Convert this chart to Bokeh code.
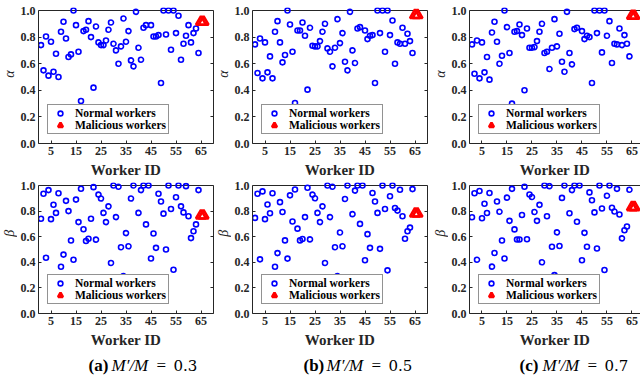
from bokeh.plotting import figure
from bokeh.layouts import column, row
from bokeh.models import (Range1d, LinearAxis, FixedTicker, Span, Label,
                          NumeralTickFormatter)
from bokeh.embed import file_html
from bokeh.resources import INLINE
import math

# ---------------- data ----------------
ids_alpha = [1, 2, 3, 4, 5, 6, 7, 8, 9, 10, 11, 12, 13, 14, 15, 16, 17, 18, 19, 20,
             21, 22, 23, 24, 25, 26, 27, 28, 29, 30, 31, 32, 33, 34, 35, 36, 37, 38, 39, 40,
             41, 42, 43, 45, 46, 47, 48, 49, 50, 51, 52, 53, 54, 55, 56, 57, 58, 59, 60,
             61, 62, 63, 64]
alpha_03 = [0.74, 0.55, 0.805, 0.51, 0.765, 0.54, 0.675, 0.50, 0.84, 0.915, 0.79, 0.65, 0.67, 1.0, 0.89, 0.69, 0.32, 0.845, 0.855, 0.92,
            0.80, 0.42, 0.88, 0.76, 0.74, 0.74, 0.775, 0.855, 0.91, 0.75, 0.70, 0.60, 0.73, 0.94, 0.765, 0.845, 0.625, 0.58, 0.99, 0.72,
            0.63, 0.87, 0.89, 0.89, 0.805, 0.805, 0.815, 0.455, 1.0, 0.82, 1.0, 0.705, 1.0, 0.83, 0.96, 0.63, 0.75, 0.81, 0.89,
            0.76, 0.83, 0.865, 0.68]
alpha_05 = [0.745, 0.53, 0.79, 0.49, 0.76, 0.535, 0.655, 0.49, 0.84, 0.92, 0.76, 0.61, 0.665, 1.0, 0.895, 0.69, 0.305, 0.85, 0.85, 0.91,
            0.81, 0.405, 0.87, 0.735, 0.73, 0.73, 0.77, 0.84, 0.90, 0.715, 0.69, 0.58, 0.72, 0.935, 0.755, 0.83, 0.615, 0.55, 0.99, 0.70,
            0.605, 0.865, 0.875, 0.85, 0.785, 0.81, 0.815, 0.455, 1.0, 0.83, 1.0, 0.69, 1.0, 0.815, 0.925, 0.60, 0.76, 0.75, 0.87,
            0.75, 0.825, 0.77, 0.68]
alpha_07 = [0.745, 0.525, 0.775, 0.49, 0.76, 0.535, 0.65, 0.48, 0.835, 0.915, 0.765, 0.60, 0.66, 1.0, 0.875, 0.68, 0.30, 0.84, 0.845, 0.895,
            0.815, 0.40, 0.865, 0.72, 0.72, 0.725, 0.77, 0.84, 0.90, 0.68, 0.69, 0.56, 0.72, 0.935, 0.73, 0.825, 0.615, 0.54, 0.99, 0.68,
            0.595, 0.86, 0.87, 0.845, 0.785, 0.81, 0.80, 0.455, 1.0, 0.83, 1.0, 0.685, 1.0, 0.81, 0.92, 0.605, 0.75, 0.745, 0.865,
            0.74, 0.815, 0.75, 0.655]

ids_beta = [1, 2, 3, 4, 5, 6, 7, 8, 9, 10, 11, 12, 13, 14, 15, 16, 17, 18, 19, 20,
            21, 22, 23, 24, 25, 26, 27, 28, 29, 30, 31, 32, 33, 34, 35, 36, 37, 38, 40,
            41, 42, 43, 44, 45, 46, 47, 48, 49, 50, 51, 52, 53, 54, 55, 56, 57, 58, 59, 60,
            61, 62, 63, 64]
beta_03 = [0.74, 0.936, 0.436, 0.964, 0.737, 0.85, 0.786, 0.94, 0.365, 0.46, 0.88, 0.80, 0.57, 0.42, 0.89, 0.714, 0.975, 0.658, 0.566, 0.584,
           0.74, 0.987, 0.577, 0.929, 0.898, 0.786, 0.714, 0.837, 0.395, 1.0, 0.753, 0.99, 0.518, 0.293, 0.628, 0.525, 0.898, 1.0, 0.786,
           0.964, 1.0, 0.696, 1.0, 0.43, 0.625, 0.513, 0.936, 0.875, 0.78, 0.50, 1.0, 0.816, 0.342, 0.908, 1.0, 0.837, 0.79, 0.995, 0.76,
           0.589, 0.643, 0.696, 0.964]
beta_05 = [0.747, 0.936, 0.423, 0.954, 0.737, 0.852, 0.783, 0.939, 0.365, 0.472, 0.87, 0.793, 0.571, 0.429, 0.923, 0.719, 0.969, 0.663, 0.571, 0.582,
           0.753, 0.982, 0.579, 0.929, 0.90, 0.786, 0.714, 0.837, 0.395, 1.0, 0.753, 0.99, 0.518, 0.293, 0.633, 0.525, 0.895, 1.0, 0.776,
           0.96, 1.0, 0.70, 1.0, 0.416, 0.62, 0.513, 0.941, 0.875, 0.786, 0.505, 1.0, 0.816, 0.337, 0.916, 1.0, 0.824, 0.804, 0.967, 0.76,
           0.584, 0.643, 0.671, 0.972]
beta_07 = [0.752, 0.939, 0.42, 0.957, 0.744, 0.857, 0.785, 0.941, 0.366, 0.473, 0.875, 0.795, 0.57, 0.43, 0.905, 0.724, 0.974, 0.657, 0.578, 0.578,
           0.77, 0.99, 0.58, 0.93, 0.91, 0.793, 0.724, 0.849, 0.40, 1.0, 0.76, 0.995, 0.522, 0.30, 0.634, 0.527, 0.903, 1.0, 0.783,
           0.964, 1.0, 0.717, 1.0, 0.416, 0.63, 0.522, 0.946, 0.885, 0.79, 0.508, 1.0, 0.82, 0.34, 0.92, 1.0, 0.826, 0.797, 0.974, 0.773,
           0.587, 0.65, 0.68, 0.967]

ids_malicious = [65, 66]
mal_alpha = [0.915, 0.965, 0.96]
mal_beta = [0.765, 0.78, 0.83]

x_ticks = [5, 15, 25, 35, 45, 55, 65]
y_ticks = [0.0, 0.2, 0.4, 0.6, 0.8, 1.0]
ratios = ["0.3", "0.5", "0.7"]
panel_letters = ["(a)", "(b)", "(c)"]

# ---------------- style ----------------
AX = "#262626"
FONT = "Liberation Serif"
PX_PER_UNIT = 177 / 70.0


def style_axis(ax, labels=True):
    ax.axis_line_color = AX
    ax.axis_line_width = 1
    ax.major_tick_line_color = AX
    ax.major_tick_in = 3
    ax.major_tick_out = 0
    ax.minor_tick_line_color = None
    ax.major_label_text_font = FONT
    ax.major_label_text_font_style = "bold"
    ax.major_label_text_color = AX
    ax.major_label_text_font_size = "12px"
    ax.major_label_standoff = 3
    if not labels:
        ax.major_label_standoff = 0
        ax.major_label_overrides = {t: "" for t in y_ticks}


def make_panel(ids, vals, mal_val, width, height, x_end, bl, br, bt, bb, unit_px, right_axis=True):
    y_end = 1.0 + 3.0 / unit_px
    p = figure(width=width, height=height,
               x_range=Range1d(0, x_end), y_range=Range1d(0, y_end),
               output_backend="svg", toolbar_location=None,
               min_border_left=bl, min_border_right=br,
               min_border_top=bt, min_border_bottom=bb)
    p.outline_line_color = None
    p.grid.visible = False
    p.background_fill_color = "white"
    p.border_fill_color = "white"

    p.add_layout(Span(location=1.0, dimension="width", line_color=AX,
                      line_width=1, level="underlay"))

    p.scatter(ids, vals, marker="circle", size=5, fill_color=None,
              line_color="#0000FF", line_width=1.6, legend_label="Normal workers")
    p.scatter(ids_malicious, [mal_val] * len(ids_malicious), marker="triangle", size=10,
              fill_color=None, line_color="#FF0000", line_width=2.6,
              legend_label="Malicious workers")

    xa = p.xaxis[0]
    xa.ticker = FixedTicker(ticks=x_ticks)
    style_axis(xa)
    xa.axis_label = "Worker ID"
    xa.axis_label_text_font = FONT
    xa.axis_label_text_font_style = "bold"
    xa.axis_label_text_font_size = "15px"
    xa.axis_label_text_color = AX
    xa.axis_label_standoff = 4

    ya = p.yaxis[0]
    ya.ticker = FixedTicker(ticks=y_ticks)
    ya.formatter = NumeralTickFormatter(format="0.0")
    ya.bounds = (0, 1)
    style_axis(ya)

    if right_axis:
        ra = LinearAxis(ticker=FixedTicker(ticks=y_ticks), bounds=(0, 1))
        style_axis(ra, labels=False)
        p.add_layout(ra, "right")

    lg = p.legend[0]
    lg.location = (9, 9)
    lg.border_line_color = AX
    lg.border_line_width = 1
    lg.background_fill_color = "white"
    lg.background_fill_alpha = 1
    lg.padding = 2
    lg.spacing = 0
    lg.margin = 0
    lg.glyph_width = 20
    lg.glyph_height = 12
    lg.label_height = 12
    lg.label_standoff = 5
    lg.label_text_font = FONT
    lg.label_text_font_style = "bold"
    lg.label_text_font_size = "11.5px"
    lg.label_text_color = "black"
    return p


def greek_fig(text, w, h, cx, cy):
    g = figure(width=w, height=h, x_range=Range1d(0, w), y_range=Range1d(0, h),
               output_backend="svg", toolbar_location=None, min_border=0,
               x_axis_location=None, y_axis_location=None)
    g.outline_line_color = None
    g.grid.visible = False
    g.add_layout(Label(x=cx, y=cy, text=text, angle=math.pi / 2,
                       text_font=FONT, text_font_style="italic", text_font_size="14px",
                       text_color=AX, text_align="center", text_baseline="middle"))
    return g


alpha_sets = [alpha_03, alpha_05, alpha_07]
beta_sets = [beta_03, beta_05, beta_07]

# per column: greek strip width, greek centre, figure width, frame width, left border, right border, right axis
cols = [(17, 9.0, 197, 177, 19, 1, True),
        (17, 8.5, 200, 177, 19, 4, True),
        (17, 8.5, 192, 173, 19, 0, False)]

H1 = 180
H2 = 170
row1, row2 = [], []
for k in range(3):
    gw, gc, w, fw, bl, br, ra = cols[k]
    xe = fw / PX_PER_UNIT
    row1.append(greek_fig("α", gw, H1, gc, H1 - 88))
    row1.append(make_panel(ids_alpha, alpha_sets[k], mal_alpha[k],
                           w, H1, xe, bl, br, 7, 37, 133.0, ra))
    row2.append(greek_fig("β", gw, H2, gc, H2 - (246 - H1)))
    row2.append(make_panel(ids_beta, beta_sets[k], mal_beta[k],
                           w, H2, xe, bl, br, 2, 37, 128.0, ra))

# captions
CAP_H = 385 - H1 - H2
cap = figure(width=636, height=CAP_H, x_range=Range1d(0, 636), y_range=Range1d(0, CAP_H),
             output_backend="svg", toolbar_location=None, min_border=0,
             x_axis_location=None, y_axis_location=None)
cap.outline_line_color = None
cap.grid.visible = False
starts = [88, 303, 519]
ycap = CAP_H - (365 - H1 - H2)
for k in range(3):
    x0 = starts[k]
    cap.add_layout(Label(x=x0, y=ycap, text=panel_letters[k], text_font=FONT,
                         text_font_style="bold", text_font_size="17px", text_color="black",
                         text_align="left", text_baseline="middle"))
    cap.add_layout(Label(x=x0 + 23, y=ycap, text="M′/M", text_font=FONT,
                         text_font_style="italic", text_font_size="17px", text_color="black",
                         text_align="left", text_baseline="middle"))
    cap.add_layout(Label(x=x0 + 68, y=ycap, text="=", text_font=FONT,
                         text_font_style="normal", text_font_size="17px", text_color="black",
                         text_align="left", text_baseline="middle"))
    cap.add_layout(Label(x=x0 + 85, y=ycap, text=ratios[k], text_font="DejaVu Serif",
                         text_font_style="normal", text_font_size="15px", text_color="black",
                         text_align="left", text_baseline="middle"))

layout = column(row(*row1), row(*row2), cap)
open("out.html", "w").write(file_html(layout, INLINE))
